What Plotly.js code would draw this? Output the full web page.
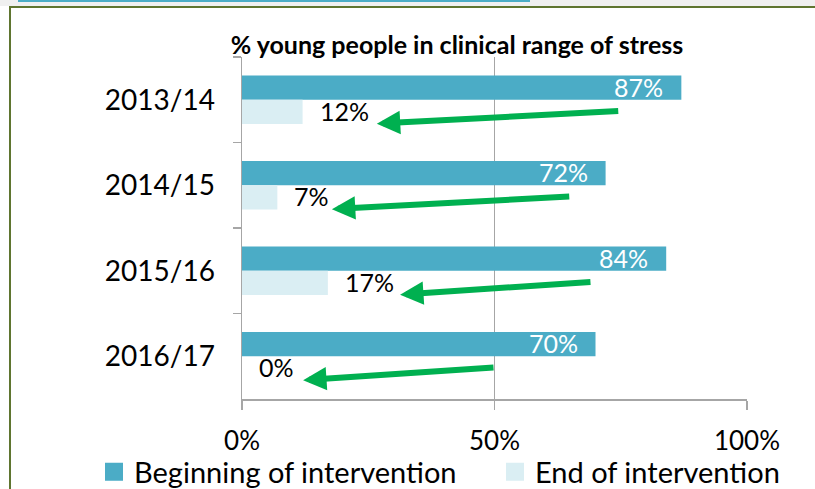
<!DOCTYPE html>
<html>
<head>
<meta charset="utf-8">
<script src="https://cdn.plot.ly/plotly-3.0.1.min.js"></script>
<style>
  html, body { margin: 0; padding: 0; background: #ffffff; }
  #wrap { position: relative; width: 815px; height: 489px; overflow: hidden; background: #ffffff; }
  #topstrip { position: absolute; left: 0; top: 0; width: 815px; height: 6px; background: #f0f0f0; }
  #topblue { position: absolute; left: 18px; top: 0; width: 512px; height: 2px; background: #4bacc6; }
  #frame { position: absolute; left: 9px; top: 6px; width: 820px; height: 500px; border-left: 2px solid #5f7530; border-top: 2px solid #5f7530; }
  #chart { position: absolute; left: 0; top: 0; width: 815px; height: 489px; }
</style>
</head>
<body>
<div id="wrap">
  <div id="topstrip"></div>
  <div id="topblue"></div>
  <div id="frame"></div>
  <div id="chart"></div>
</div>
<script>
// ---- data ----
const categories = ["2013/14", "2014/15", "2015/16", "2016/17"];
const beginningValues = [87, 72, 84, 70];
const endValues = [12, 7, 17, 0];
const seriesNames = ["Beginning of intervention", "End of intervention"];
const chartTitle = "% young people in clinical range of stress";
const xTickValues = [0, 50, 100];
const xTickLabels = ["0%", "50%", "100%"];
// green arrows (in % of x axis)
const arrowFrom = [74.8, 65.1, 69.3, 50.1];
const arrowTo = [26.7, 17.8, 31.3, 12.1];

// ---- styling ----
const FONT = "Lato, 'Open Sans', sans-serif";
const BLUE = "#4bacc6";
const LIGHT = "#daeef3";
const GRID = "#a6a6a6";
const GREEN = "#00b050";

const traces = [
  {
    type: "bar", orientation: "h", name: seriesNames[0], legendgroup: "b",
    y: categories, x: beginningValues, showlegend: false,
    marker: { color: BLUE }, hoverinfo: "skip"
  },
  {
    type: "bar", orientation: "h", name: seriesNames[1], legendgroup: "e",
    y: categories, x: endValues, showlegend: false,
    marker: { color: LIGHT }, hoverinfo: "skip"
  },
  // legend entries (larger square swatches, as in the original)
  {
    type: "scatter", mode: "markers", name: seriesNames[0], legendgroup: "b",
    x: [null], y: [null], hoverinfo: "skip", legendwidth: 356,
    marker: { symbol: "square", size: 16, color: BLUE, line: { color: BLUE, width: 2 } }
  },
  {
    type: "scatter", mode: "markers", name: seriesNames[1], legendgroup: "e",
    x: [null], y: [null], hoverinfo: "skip", legendwidth: 250,
    marker: { symbol: "square", size: 16, color: LIGHT, line: { color: LIGHT, width: 2 } }
  }
];

const annotations = [];
const barShift = 12;
categories.forEach((c, i) => {
  annotations.push({
    x: beginningValues[i], y: c, xref: "x", yref: "y",
    text: beginningValues[i] + "%", showarrow: false,
    xanchor: "right", yanchor: "middle", xshift: -16, yshift: barShift + 1,
    font: { family: FONT, size: 25, color: "#ffffff" }
  });
  annotations.push({
    x: endValues[i], y: c, xref: "x", yref: "y",
    text: endValues[i] + "%", showarrow: false,
    xanchor: "left", yanchor: "middle", xshift: 15, yshift: -barShift + 1,
    font: { family: FONT, size: 25, color: "#000000" }
  });
  annotations.push({
    x: arrowTo[i], y: i + 0.28, xref: "x", yref: "y",
    ax: arrowFrom[i], ay: i + 0.13, axref: "x", ayref: "y",
    text: "", showarrow: true, arrowhead: 2, arrowsize: 0.78, arrowwidth: 6,
    arrowcolor: GREEN, standoff: 0, startstandoff: 0
  });
});

const layout = {
  width: 815, height: 489,
  margin: { l: 242, r: 68, t: 57, b: 90, pad: 0, autoexpand: false },
  paper_bgcolor: "rgba(0,0,0,0)", plot_bgcolor: "rgba(0,0,0,0)",
  font: { family: FONT, color: "#000000" },
  title: {
    text: "<b>" + chartTitle + "</b>",
    font: { family: FONT, size: 25, color: "#000000" },
    xref: "container", x: 457 / 815, xanchor: "center",
    yref: "container", y: 1 - 45 / 489, yanchor: "middle"
  },
  barmode: "group", bargap: 0.43, bargroupgap: 0,
  xaxis: {
    range: [0, 100], tickvals: xTickValues, ticktext: xTickLabels,
    showgrid: true, gridcolor: GRID, gridwidth: 1.5,
    showline: true, linecolor: GRID, linewidth: 1.5,
    ticks: "outside", ticklen: 9, tickcolor: GRID, tickwidth: 1.5,
    zeroline: false, fixedrange: true, automargin: false,
    tickfont: { family: FONT, size: 26, color: "#000000" },
    ticklabelstandoff: 9
  },
  yaxis: {
    type: "category", autorange: "reversed",
    showline: true, linecolor: GRID, linewidth: 1.5,
    ticks: "outside", ticklen: 8, tickcolor: GRID, tickwidth: 1.5,
    tickson: "boundaries", showgrid: false, zeroline: false, fixedrange: true,
    automargin: false,
    tickfont: { family: FONT, size: 28, color: "#000000" },
    ticklabelstandoff: 20
  },
  legend: {
    orientation: "h", xref: "paper", yref: "paper",
    x: (94 - 242) / 505, xanchor: "left", y: (399 - 472) / 342, yanchor: "middle",
    font: { family: FONT, size: 29, color: "#000000" },
    bgcolor: "rgba(0,0,0,0)", traceorder: "normal"
  },
  annotations: annotations,
  showlegend: true
};

Plotly.newPlot("chart", traces, layout, { displayModeBar: false, staticPlot: true });
</script>
</body>
</html>
